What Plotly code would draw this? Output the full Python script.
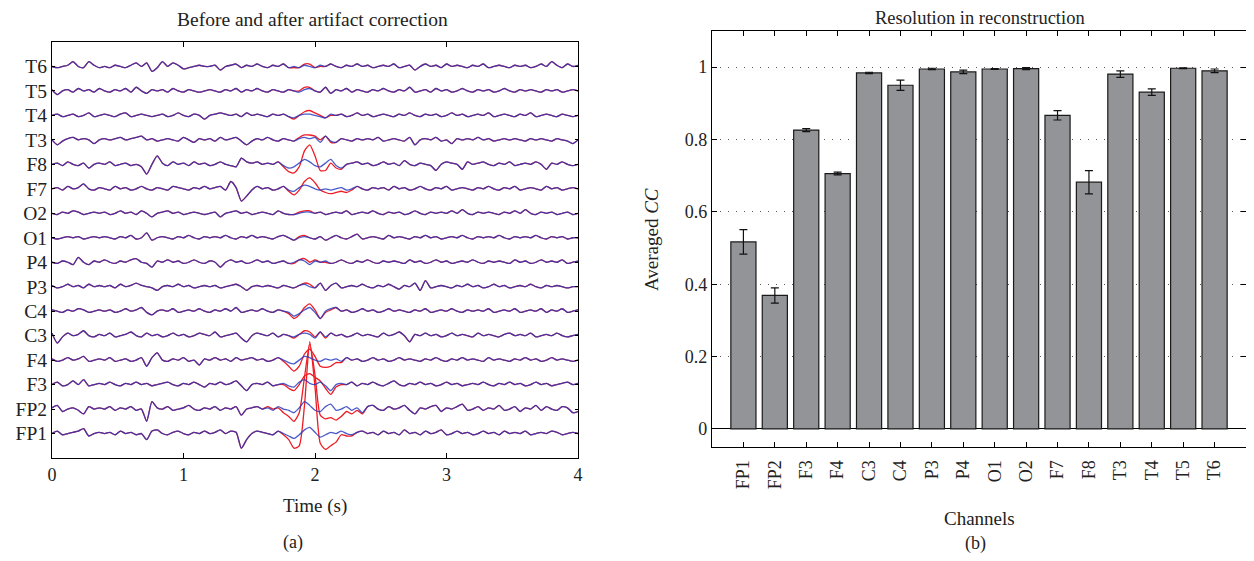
import numpy as np
import plotly.graph_objects as go

# ---------------- data: panel (a) ----------------
# channel names bottom -> top
channels_a = ["FP1", "FP2", "F3", "F4", "C3", "C4", "P3", "P4",
              "O1", "O2", "F7", "F8", "T3", "T4", "T5", "T6"]
t_step = 0.04          # s, samples 0 .. 4 s
n_samples = 101
# after correction (blue), amplitude in uV
after = {
 "T6": [0,-1,0,1,4,0,-1,4,1,-1, 0,-1,1,0,-1,1,3,0,3,-4, -1,4,0,3,1,-2,-1,0,1,0, 0,1,-3,0,1,2,-1,1,0,2,
        0,-1,1,0,2,-1,0,-1,1,0, -1,1,0,2,0,-1,1,0,2,0, 1,-1,0,1,0,2,-1,0,1,-3, 0,2,0,1,-1,2,0,1,0,-1,
        1,0,2,-1,0,1,0,-1,1,0, 1,-1,0,2,0,4,1,-1,2,0, 1],
 "T5": [1,-3,0,1,-1,2,0,1,-1,2, 0,-1,1,0,2,-1,3,0,-2,1, 0,1,-1,2,0,-1,1,0,-1,0, 1,0,-1,1,0,2,-1,1,0,2,
        0,-1,1,0,-1,1,0,-1,1,2, 0,-1,3,-2,1,0,2,-1,1,0, -1,1,0,2,0,-1,1,0,3,-1, 0,1,-1,2,0,1,-1,0,2,0,
        -1,1,0,1,-1,0,2,0,-1,1, 0,1,0,-1,1,0,1,-1,0,1, 0],
 "T4": [0,1,-1,0,1,-1,0,2,-1,0, 1,0,-1,1,2,-1,0,1,0,-1, 0,1,-1,0,2,0,-1,1,0,-3, 0,1,2,1,0,1,-1,2,0,1,
        0,-1,1,0,1,-1,-2,0,1,1, 0,-1,-2,1,0,1,-1,0,2,0, 1,-1,0,1,0,-1,1,0,2,0, -1,1,0,1,-1,0,2,0,1,-1,
        0,1,0,2,-1,0,1,0,-1,1, 0,2,-1,0,1,0,-1,1,0,-1, 0],
 "T3": [0,-4,-1,1,2,0,1,0,-3,0, 1,0,1,2,0,1,2,3,0,1, -1,0,1,0,-1,2,0,-2,1,0, 1,-1,2,0,1,2,-1,-4,-1,1,
        0,2,0,-1,1,0,-1,1,2,1, 2,-2,3,-1,-2,1,0,-1,1,0, 1,0,2,-1,0,1,0,-1,2,-4, 0,1,0,2,-1,0,-3,1,0,1,
        0,2,0,1,-1,0,1,0,1,0, -1,1,0,1,0,-1,1,0,-1,-3, 0],
 "F8": [0,1,-1,2,0,-1,1,-3,0,1, 0,2,-1,0,1,-1,0,-2,-8,0, 7,1,-1,2,0,1,-1,2,0,1, -1,0,2,0,-1,-2,5,2,1,2,
        0,1,0,2,-1,-3,-2,1,4,2, -1,-2,1,4,-1,-3,0,1,2,0, 1,-1,0,2,0,1,-1,3,0,-1, 1,0,-1,-5,0,2,1,0,-4,2,
        0,1,2,0,-1,1,0,2,-1,0, 1,0,2,0,-4,1,0,2,0,-1, 0],
 "F7": [0,1,-1,2,0,1,4,0,-1,1, 0,-1,2,0,1,-1,0,2,0,-1, 1,0,-1,2,1,0,-1,1,0,2, 0,1,2,-1,6,1,-10,-6,-1,2,
        0,1,-1,0,2,-1,-2,1,3,2, 0,-1,0,-1,0,1,-1,0,2,0, -1,1,0,1,-1,2,0,1,-1,0, 2,0,-1,1,0,2,-1,0,1,0,
        -1,1,0,2,0,-1,1,0,2,-1, 0,1,0,-1,2,0,1,-1,0,1, 0],
 "O2": [0,-1,1,0,2,1,-1,0,1,0, 1,-1,0,2,0,1,-1,2,0,-3, 0,1,2,0,1,-1,0,1,0,-1, 0,1,-3,0,1,2,0,1,-1,0,
        1,0,-1,2,0,-1,-1,0,1,1, 0,1,-1,0,1,0,2,-1,0,1, 0,2,0,-1,1,0,1,-1,0,2, 0,-1,1,0,1,0,2,0,3,0,
        -1,1,0,1,0,-1,1,0,2,0, 3,0,-1,1,0,1,-1,0,1,-1, 0],
 "O1": [0,-1,0,1,0,1,-1,0,1,0, 1,0,-1,1,0,2,-1,0,4,-2, 0,1,0,-1,1,0,2,0,-1,1, 0,1,0,2,0,-1,1,0,2,0,
        1,0,-1,1,2,0,-2,0,1,0, -1,1,-2,0,2,0,-1,1,3,-1, 0,1,0,-1,2,0,1,0,-1,1, 0,2,0,1,-1,0,1,0,2,0,
        -1,1,0,1,0,2,0,-1,1,0, 1,0,2,0,-1,1,0,1,-1,0, 0],
 "P4": [0,-1,1,0,-2,4,0,-2,1,0, 2,0,-1,1,0,2,3,0,-1,-4, 1,0,2,0,1,-1,0,2,0,-1, 1,0,-4,0,2,0,1,-1,0,2,
        0,1,-1,0,1,-1,0,2,1,-2, 1,0,1,-1,0,2,0,-1,1,0, 2,0,-1,1,0,1,0,-1,2,0, 1,-1,0,2,0,1,-1,0,1,0,
        2,0,-1,1,0,1,0,-1,2,0, 1,-1,0,2,0,1,0,2,-1,0, 1],
 "P3": [1,-1,0,2,0,1,-1,2,0,1, 0,1,-1,2,0,1,3,1,0,-1, -3,0,1,0,2,0,1,-1,0,1, 0,1,-1,0,1,2,0,-3,0,1,
        0,1,0,-1,1,0,-1,1,2,0, -1,3,-3,1,3,-1,0,1,0,2, 0,-1,1,0,2,0,-2,1,0,3, -3,5,-1,0,1,0,-1,1,0,2,
        0,1,-1,0,2,0,1,-1,0,1, 0,2,0,-1,1,0,1,0,-1,0, 0],
 "C4": [1,0,-1,1,0,2,1,-1,0,1, 0,1,-1,0,2,0,1,3,-1,-3, 0,1,0,2,-1,0,1,0,2,0, -1,1,0,2,0,3,-1,0,1,0,
        2,0,-1,1,0,-1,-4,-2,1,3, -1,-6,0,2,3,0,1,-1,0,2, 0,1,-1,0,2,0,1,0,-1,1, 0,2,-1,0,1,0,2,0,-1,1,
        0,1,0,2,-1,0,1,0,2,-1, 0,1,0,2,-1,1,0,2,-1,0, 1],
 "C3": [2,-6,-1,2,0,1,4,0,-1,1, 0,2,-1,0,1,3,0,-1,2,0, 1,-1,0,2,0,1,-1,0,2,1, 0,3,-1,0,1,2,-2,-5,0,2,
        1,0,2,-1,1,0,-1,1,2,1, -2,3,-1,2,0,1,-1,0,2,0, 1,0,-1,2,0,1,3,0,-5,1, 0,2,0,1,-1,0,2,0,1,0,
        -1,2,0,1,0,-1,1,2,0,1, 0,2,-1,0,1,0,2,0,-1,0, 1],
 "F4": [1,-1,0,2,0,1,3,-1,0,1, 0,2,-1,0,1,-1,0,2,-5,2, 6,0,-1,1,0,2,-1,0,-4,1, 0,2,0,1,-1,2,0,1,2,0,
        1,-1,0,2,0,-2,-3,0,3,2, 0,-1,1,0,1,-1,2,0,1,-1, 0,2,0,1,-1,0,2,0,1,0, -1,1,0,2,0,-1,1,0,2,0,
        1,0,-1,2,0,1,0,-1,1,0, 2,0,1,-1,0,2,0,1,0,-1, 0],
 "F3": [0,2,-1,0,3,0,4,-1,0,1, 0,2,0,-1,1,0,2,0,1,-1, 0,1,2,0,-1,1,0,2,0,-2, 1,0,2,0,1,3,-1,-5,0,1,
        0,2,-1,0,1,-1,-2,2,4,1, 0,2,-1,-5,0,1,0,2,-1,1, 0,2,0,-1,1,3,0,-1,1,0, 2,0,1,-1,0,2,0,1,-1,0,
        1,0,2,0,-1,1,0,2,0,1, -1,0,2,0,1,-1,0,1,2,0, 1],
 "FP2": [1,3,-2,0,1,-1,-4,2,0,1, 0,2,-1,1,0,2,-1,0,-10,6, 1,0,2,-1,0,1,3,0,-1,1, 0,2,-1,1,0,2,-5,0,1,2,
        0,1,-1,2,0,-1,-3,1,6,3, -1,-2,2,4,-1,0,2,-1,1,-3, 2,3,0,-1,2,0,1,3,-1,-4, 1,0,2,3,-2,1,0,2,4,-1,
        0,2,-1,1,0,3,-1,0,2,-2, 1,0,3,-1,2,0,-1,2,1,-3, -2],
 "FP1": [0,2,-1,0,1,2,4,-2,0,1, 0,1,-1,2,0,1,-1,0,-5,2, 3,0,-1,1,2,0,-1,1,0,2, 0,1,3,0,2,1,-12,-5,0,2,
        1,0,-1,2,0,-2,-4,-1,3,5, 1,-3,-1,1,0,2,0,-1,1,2, 0,1,-1,2,0,1,-1,3,0,1, -1,2,0,1,3,-1,0,2,0,1,
        -1,0,2,0,1,-1,2,0,1,0, 2,-1,0,1,0,2,1,-1,0,1, 0],
}
# before correction minus after correction, samples 40..60 (1.60 s .. 2.40 s)
artifact_start = 40
artifact = {
 "FP1": [0,0,0,0,-1,-3,-8,-9,20,70,37,-5,-12,-11,-7,-3,-2,-1,0,0,0],
 "FP2": [0,1,1,-1,-3,-5,-7,-4,20,50,29,-3,-10,-11,-8,-6,-4,-3,-2,-1,0],
 "F3":  [0,0,0,0,-1,-2,-3,-2,3,8,6,1,-2,-3,-2,-1,0,0,0,0,0],
 "F4":  [0,0,0,0,-1,-3,-6,-5,2,7,3,-4,-7,-5,-3,-1,0,0,0,0,0],
 "C3":  [0,0,0,0,0,0,-1,0,2,2,1,0,-1,0,0,0,0,0,0,0,0],
 "C4":  [0,0,0,0,0,-1,-2,-1,2,3,2,0,-1,-1,0,0,0,0,0,0,0],
 "P3":  [0,0,0,0,0,0,0,0,1,2,0,0,0,0,0,0,0,0,0,0,0],
 "P4":  [0,0,0,0,0,0,-1,0,2,2,1,0,-1,0,0,0,0,0,0,0,0],
 "O1":  [0,0,0,0,0,0,0,1,1,0,0,0,0,0,0,0,0,0,0,0,0],
 "O2":  [0,0,0,0,0,0,0,1,1,1,0,0,0,0,0,0,0,0,0,0,0],
 "F7":  [0,0,0,0,0,-1,-3,-2,3,7,5,0,-3,-3,-3,-3,-2,-1,0,0,0],
 "F8":  [0,0,0,0,-1,-3,-5,-3,7,14,8,-3,-6,-3,-2,-1,0,0,0,0,0],
 "T3":  [0,0,0,0,0,0,0,1,2,3,1,2,0,-1,0,0,0,0,0,0,0],
 "T4":  [0,0,0,0,0,0,-1,0,2,3,2,1,0,-1,0,0,0,0,0,0,0],
 "T5":  [0,0,0,0,0,0,0,1,2,1,0,0,0,0,0,0,0,0,0,0,0],
 "T6":  [0,0,0,0,0,0,-1,0,1,2,0,-1,0,0,0,0,0,0,0,0,0],
}
uv_per_row = 20.0

# ---------------- data: panel (b) ----------------
channels_b = ["FP1", "FP2", "F3", "F4", "C3", "C4", "P3", "P4",
              "O1", "O2", "F7", "F8", "T3", "T4", "T5", "T6"]
cc_mean = [0.517, 0.369, 0.826, 0.706, 0.984, 0.950, 0.995, 0.987,
           0.995, 0.996, 0.867, 0.682, 0.981, 0.931, 0.997, 0.990]
cc_err = [0.034, 0.021, 0.004, 0.004, 0.002, 0.014, 0.002, 0.005,
          0.001, 0.003, 0.013, 0.032, 0.009, 0.009, 0.001, 0.005]
y_ticks_b = [0, 0.2, 0.4, 0.6, 0.8, 1]

FONT = "Liberation Serif"
PAGE_W, PAGE_H, BODY = 1254, 561, 8     # the html body adds an 8 px margin
W, H = PAGE_W - 2 * BODY, PAGE_H - 2 * BODY

def px(X):   # page pixel x -> paper fraction
    return (X - BODY) / W

def py(Y):   # page pixel y -> paper fraction
    return 1 - (Y - BODY) / H

fig = go.Figure()
t = np.arange(n_samples) * t_step

red_traces, blue_traces = [], []
for k, ch in enumerate(channels_a):
    base = np.array(after[ch], dtype=float)
    before = base.copy()
    a = np.array(artifact[ch], dtype=float)
    before[artifact_start:artifact_start + len(a)] += a
    pos = k + 1
    red_traces.append(go.Scatter(x=t, y=pos + before / uv_per_row, mode="lines",
                                 line=dict(color="#ee1c24", width=1.3, shape="spline", smoothing=0.6),
                                 hoverinfo="skip", showlegend=False, xaxis="x", yaxis="y"))
    blue_traces.append(go.Scatter(x=t, y=pos + base / uv_per_row, mode="lines",
                                  line=dict(color="rgb(35,55,190)", width=1.3, shape="spline", smoothing=0.6),
                                  opacity=0.82, hoverinfo="skip", showlegend=False, xaxis="x", yaxis="y"))
for tr in red_traces + blue_traces:
    fig.add_trace(tr)

xb = list(range(1, len(channels_b) + 1))
fig.add_trace(go.Bar(x=xb, y=cc_mean, width=0.8,
                     marker=dict(color="#939498", line=dict(color="#1a1a1a", width=1.2)),
                     error_y=dict(type="data", array=cc_err, color="#111", thickness=1.2, width=4),
                     showlegend=False, xaxis="x2", yaxis="y2"))

def axis_common(size=18):
    return dict(showline=True, linecolor="black", linewidth=1.2, mirror="ticks",
                ticks="inside", tickcolor="black", showgrid=False, zeroline=False,
                automargin=False, tickfont=dict(family=FONT, size=size, color="#222"))

fig.update_layout(
    width=W, height=H, margin=dict(l=0, r=0, t=0, b=0),
    paper_bgcolor="white", plot_bgcolor="white",
    font=dict(family=FONT, color="#222"),
    xaxis=dict(domain=[px(52), px(578)], range=[0, 4], tickvals=[0, 1, 2, 3, 4],
               ticklen=5, **axis_common(18)),
    yaxis=dict(domain=[py(458), py(42)], range=[0, 17],
               tickvals=list(range(1, 17)), ticktext=channels_a, ticklen=3, **axis_common(19.5)),
    xaxis2=dict(domain=[px(712), px(1246)], range=[0, 17], tickvals=xb, ticktext=channels_b,
                tickangle=-90, ticklen=5, anchor="y2", ticklabelstandoff=5, **axis_common(18)),
    yaxis2=dict(domain=[py(447), py(31)], range=[-0.05, 1.1], tickvals=y_ticks_b,
                ticktext=["0", "0.2", "0.4", "0.6", "0.8", "1"], ticklen=5, anchor="x2",
                **{**axis_common(18), "showgrid": True, "gridcolor": "#555", "griddash": "1px,7px",
                   "gridwidth": 1, "zeroline": True, "zerolinecolor": "black", "zerolinewidth": 1.2}),
    bargap=0.2,
)

def ann(text, x, y, size=18, angle=0):
    fig.add_annotation(text=text, x=px(x), y=py(y), xref="paper", yref="paper",
                       showarrow=False, textangle=angle,
                       font=dict(family=FONT, size=size, color="#222"),
                       xanchor="center", yanchor="middle")

ann("Before and after artifact correction", 312, 19, 19.5)
ann("Time (s)", 315, 506, 19)
ann("(a)", 293, 542, 18)
ann("Resolution in reconstruction", 980, 18, 18.5)
ann("Channels", 980, 518, 19)
ann("(b)", 975, 543, 18)
ann("Averaged <i>CC</i>", 651, 240, 19, -90)

fig.write_html("out.html")
